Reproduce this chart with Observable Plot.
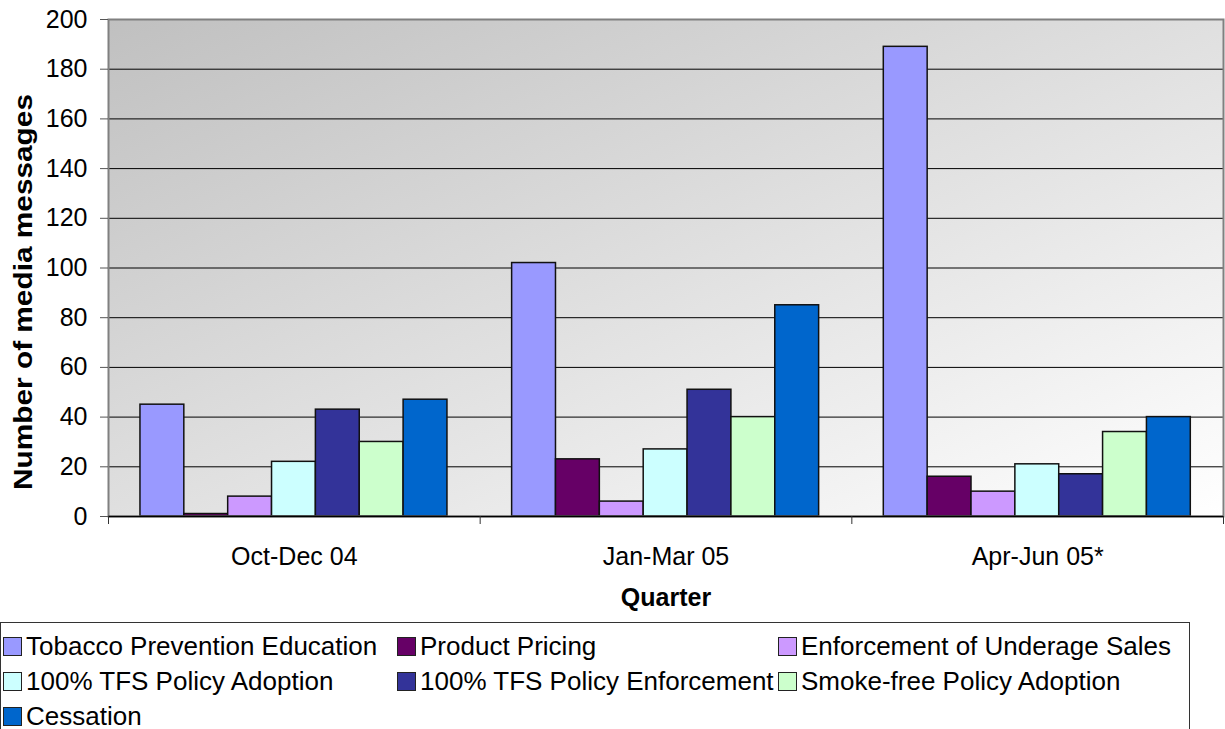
<!DOCTYPE html>
<html>
<head>
<meta charset="utf-8">
<script src="https://cdn.jsdelivr.net/npm/d3@7"></script>
<script src="https://cdn.jsdelivr.net/npm/@observablehq/plot@0.6"></script>
<style>
  html, body { margin: 0; padding: 0; background: #fff; }
  body { width: 1225px; height: 729px; position: relative; overflow: hidden; font-family: "Liberation Sans", Arial, sans-serif; }
  #legend {
    position: absolute; left: 0; top: 622px; width: 1190px; height: 120px;
    border: 1px solid #333; box-sizing: border-box;
    display: grid; grid-template-columns: 394px 381px auto; grid-auto-rows: 35px;
    padding: 6px 0 0 2px; font-size: 26px; color: #000;
  }
  .item { display: flex; align-items: center; white-space: nowrap; }
  .sw { width: 17px; height: 17px; border: 1px solid #222; margin-right: 4px; flex: none; }
</style>
</head>
<body>
<div id="chart"></div>
<div id="legend"></div>
<script>
const quarters = ["Oct-Dec 04", "Jan-Mar 05", "Apr-Jun 05*"];
const series = [
  "Tobacco Prevention Education",
  "Product Pricing",
  "Enforcement of Underage Sales",
  "100% TFS Policy Adoption",
  "100% TFS Policy Enforcement",
  "Smoke-free Policy Adoption",
  "Cessation"
];
const colors = ["#9999FF", "#660066", "#CC99FF", "#CCFFFF", "#333399", "#CCFFCC", "#0066CC"];

const tobaccoPrevention = [45, 102, 189];
const productPricing = [1, 23, 16];
const underageSales = [8, 6, 10];
const tfsAdoption = [22, 27, 21];
const tfsEnforcement = [43, 51, 17];
const smokeFreeAdoption = [30, 40, 34];
const cessation = [47, 85, 40];

const yTicks = [0, 20, 40, 60, 80, 100, 120, 140, 160, 180, 200];

const seriesValues = [tobaccoPrevention, productPricing, underageSales, tfsAdoption, tfsEnforcement, smokeFreeAdoption, cessation];
const rows = [];
quarters.forEach((q, qi) => {
  series.forEach((s, si) => {
    rows.push({quarter: q, qi, series: s, si, value: seriesValues[si][qi]});
  });
});

// layout of bars within a quarter group (group width = 1 unit)
const groupPad = 0.086, barW = 0.118;
const bx1 = d => d.qi - 0.5 + groupPad + d.si * barW;
const bx2 = d => d.qi - 0.5 + groupPad + (d.si + 1) * barW;

const chart = Plot.plot({
  width: 1225,
  height: 620,
  marginLeft: 108,
  marginRight: 2,
  marginTop: 19,
  marginBottom: 104,
  style: {fontFamily: "'Liberation Sans', Arial, sans-serif", fontSize: "25px", background: "transparent"},
  x: {domain: [-0.5, 2.5], axis: null},
  y: {domain: [0, 200], axis: null},
  color: {domain: series, range: colors},
  marks: [
    Plot.frame({fill: "url(#bgGrad)", stroke: null}),
    Plot.ruleY(yTicks.filter(t => t > 0 && t < 200), {stroke: "#000", strokeWidth: 1}),
    Plot.rectY(rows, {x1: bx1, x2: bx2, y1: 0, y2: "value", fill: "series", stroke: "#111", strokeWidth: 1.5}),
    Plot.frame({stroke: "#808080", strokeWidth: 2}),
    Plot.ruleY([0], {stroke: "#000", strokeWidth: 1.5}),
    Plot.axisY({ticks: yTicks, tickSize: 8, tickPadding: 13, fontSize: 25, stroke: "#555", label: null, tickFormat: d => String(d)}),
    Plot.axisX({ticks: [0, 1, 2], tickSize: 0, tickPadding: 31, fontSize: 25, label: null, tickFormat: i => quarters[i]}),
    Plot.axisX({ticks: [-0.5, 0.5, 1.5, 2.5], tickSize: 8, stroke: "#333", label: null, tickFormat: () => ""}),
    Plot.text(["Number of media messages"], {frameAnchor: "left", textAnchor: "middle", rotate: -90, dx: -85, dy: 24, fontWeight: "bold", fontSize: 26, className: "ytitle"}),
    Plot.text(["Quarter"], {frameAnchor: "bottom", dy: 89, fontWeight: "bold", fontSize: 25})
  ]
});

// background gradient definition (top-left grey to bottom-right white)
const ns = "http://www.w3.org/2000/svg";
const defs = document.createElementNS(ns, "defs");
defs.innerHTML = '<linearGradient id="bgGrad" x1="0" y1="0" x2="1" y2="1">' +
  '<stop offset="0" stop-color="#C0C0C0"/><stop offset="1" stop-color="#FFFFFF"/></linearGradient>';
chart.insertBefore(defs, chart.firstChild);
// the reference's y title is slightly stretched
d3.select(chart).selectAll("g.ytitle text, .ytitle text").attr("textLength", 396).attr("lengthAdjust", "spacingAndGlyphs");
document.getElementById("chart").appendChild(chart);

// legend
const legend = d3.select("#legend");
series.forEach((s, i) => {
  const item = legend.append("div").attr("class", "item");
  item.append("div").attr("class", "sw").style("background", colors[i]);
  item.append("span").text(s);
});
</script>
</body>
</html>
